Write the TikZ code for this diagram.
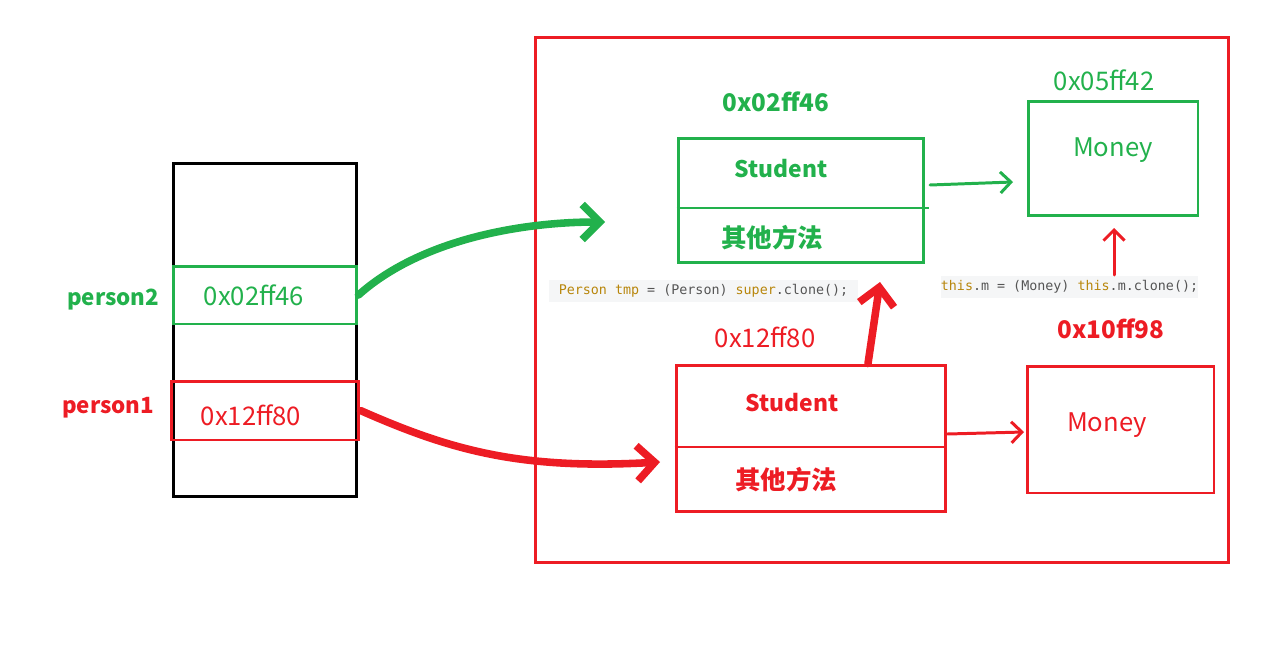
\documentclass[tikz,border=0pt]{standalone}
\usepackage{fontspec}
\setmainfont{Noto Sans CJK SC}
\setmonofont{DejaVu Sans Mono}
\usetikzlibrary{arrows.meta}
\definecolor{pgreen}{HTML}{22B14C}
\definecolor{pred}{HTML}{ED1C24}
\definecolor{codebg}{HTML}{F5F6F7}
\definecolor{kw}{HTML}{B8860B}
\definecolor{cg}{HTML}{555555}
\tikzset{
  box/.style={draw, line width=1.7pt, inner sep=0pt},
  gbox/.style={box, draw=pgreen},
  rbox/.style={box, draw=pred},
  gtxt/.style={text=pgreen, font=\fontsize{14.6}{16}\selectfont, inner sep=0pt},
  rtxt/.style={text=pred, font=\fontsize{14.6}{16}\selectfont, inner sep=0pt},
  gbold/.style={text=pgreen, inner sep=0pt, font=\fontsize{13.8}{16}\selectfont\bfseries},
  rbold/.style={text=pred, inner sep=0pt, font=\fontsize{13.8}{16}\selectfont\bfseries},
  sname/.style={inner sep=0pt, font=\fontsize{13}{15}\selectfont\bfseries},
  cname/.style={inner sep=0pt, font=\fontsize{14.5}{16}\selectfont\bfseries},
  pname/.style={inner sep=0pt, font=\fontsize{12.7}{15}\selectfont\bfseries},
  code/.style={fill=codebg, inner sep=0pt, text=cg, font=\ttfamily\fontsize{7.6}{9}\selectfont},
  thick arrow/.style={line width=4.3pt, line cap=round, -{Straight Barb[length=10pt, width=20pt, line width=4.3pt]}},
  thin arrow/.style={line width=1.7pt, line cap=round, -{Straight Barb[length=6pt, width=12pt, line width=1.7pt]}},
}
\begin{document}
\begin{tikzpicture}[x=0.02cm, y=-0.02cm]
\useasboundingbox (0,0) rectangle (1280,652);
% stack
\node[box, draw=black, minimum width=3.68cm, minimum height=6.68cm] (stack) at (265,330) {};
\node[gbox, minimum width=3.68cm, minimum height=1.16cm] (p2) at (265,295) {};
\node[gtxt] (p2val) at (254,295) {0x02ff46};
\node[rbox, minimum width=3.76cm, minimum height=1.18cm] (p1) at (265,410.5) {};
\node[rtxt] (p1val) at (251,415) {0x12ff80};
\node[pname, text=pgreen] (p2lab) at (113,300) {person2};
\node[pname, text=pred] (p1lab) at (108,408) {person1};
% heap
\node[rbox, minimum width=13.88cm, minimum height=10.52cm] (heap) at (882,300) {};
% green student
\node[gbox, minimum width=4.92cm, minimum height=2.5cm] (gs) at (801,200.5) {};
\draw[pgreen, line width=1.7pt] (gs.west |- 0,208) -- ([xshift=2pt]gs.east |- 0,208);
\node[sname, text=pgreen] (gsname) at (781,169) {Student};
\node[cname, text=pgreen] (gsm) at (772,238) {其他方法};
\node[gbold] (gsaddr) at (776,102) {0x02ff46};
% green money
\node[gbox, minimum width=3.4cm, minimum height=2.3cm] (gm) at (1113,158.5) {};
\node[gtxt] (gmname) at (1113,150) {Money};
\node[gtxt] (gmaddr) at (1104,80) {0x05ff42};
% red student
\node[rbox, minimum width=5.4cm, minimum height=2.94cm] (rs) at (811,438.5) {};
\draw[pred, line width=1.7pt] (rs.west |- 0,447) -- (rs.east |- 0,447);
\node[sname, text=pred] (rsname) at (792,403) {Student};
\node[cname, text=pred] (rsm) at (786,480) {其他方法};
\node[rtxt] (rsaddr) at (765,337) {0x12ff80};
% red money
\node[rbox, minimum width=3.74cm, minimum height=2.54cm] (rm) at (1120.5,429.5) {};
\node[rtxt] (rmname) at (1107,425) {Money};
\node[rbold] (rmaddr) at (1111,329) {0x10ff98};
% code
\node[code, minimum width=6.18cm, minimum height=0.44cm] (c1) at (703.5,291) {\textcolor{kw}{Person tmp} = (Person) \textcolor{kw}{super}.clone();};
\node[code, minimum width=5.06cm, minimum height=0.44cm] (c2) at (1069.5,287) {\textcolor{kw}{this}.m = (Money) \textcolor{kw}{this}.m.clone();};
% arrows
\coordinate (gtip) at (605,222);
\coordinate (rtip) at (660,462);
\draw[pgreen, thick arrow] (p2.east) .. controls (420,240) and (520,222) .. (gtip);
\draw[pred, thick arrow] (p1.east) .. controls (450,450) and (520,470) .. (rtip);
\draw[pred, thick arrow] (rs.north -| 868,0) -- (880,282);
\draw[pgreen, thin arrow] (930,185) -- (1013,182);
\draw[pred, thin arrow] (rs.east |- 0,434) -- (1024,432);
\draw[pred, thin arrow] (1114,275) -- (1114,228);
\end{tikzpicture}
\end{document}
